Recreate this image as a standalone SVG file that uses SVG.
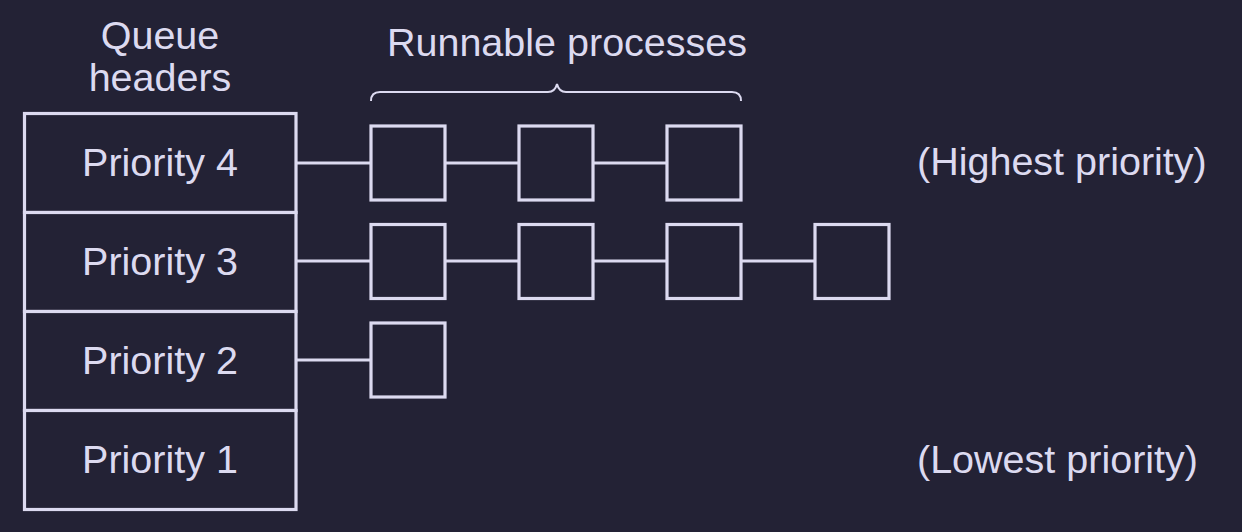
<svg xmlns="http://www.w3.org/2000/svg" width="1242" height="532" viewBox="0 0 1242 532">
<style>
.t{font-family:"Liberation Sans",Arial,sans-serif;font-size:39.5px;fill:#dcdaf0}
.m{text-anchor:middle}
.b{fill:#232235;stroke:#dcdaf0;stroke-width:3.2}
.c{stroke:#dcdaf0;stroke-width:3.2;fill:none}
</style>
<rect width="1242" height="532" fill="#232235"/>
<text class="t m" x="160" y="49">Queue</text>
<text class="t m" x="160" y="91">headers</text>
<text class="t m" x="567" y="56">Runnable processes</text>
<path d="M371 101 Q371 92 380 92 L548 92 Q555 92 557 84 Q559 92 566 92 L732 92 Q741 92 741 101" fill="none" stroke="#dcdaf0" stroke-width="2"/>
<g id="connectors">
<line class="c" x1="296" y1="163" x2="371" y2="163"/>
<line class="c" x1="445" y1="163" x2="519" y2="163"/>
<line class="c" x1="593" y1="163" x2="667" y2="163"/>
<line class="c" x1="296" y1="261" x2="371" y2="261"/>
<line class="c" x1="445" y1="261" x2="519" y2="261"/>
<line class="c" x1="593" y1="261" x2="667" y2="261"/>
<line class="c" x1="741" y1="261" x2="815" y2="261"/>
<line class="c" x1="296" y1="360" x2="371" y2="360"/>
</g>
<g id="h4"><rect class="b" x="24.5" y="113.5" width="271.5" height="99"/><text class="t m" x="160" y="176">Priority 4</text></g>
<g id="h3"><rect class="b" x="24.5" y="212.5" width="271.5" height="99"/><text class="t m" x="160" y="275">Priority 3</text></g>
<g id="h2"><rect class="b" x="24.5" y="311.5" width="271.5" height="99"/><text class="t m" x="160" y="374">Priority 2</text></g>
<g id="h1"><rect class="b" x="24.5" y="410.5" width="271.5" height="99"/><text class="t m" x="160" y="473">Priority 1</text></g>
<g id="p4a"><rect class="b" x="371" y="126" width="74" height="74"/></g>
<g id="p4b"><rect class="b" x="519" y="126" width="74" height="74"/></g>
<g id="p4c"><rect class="b" x="667" y="126" width="74" height="74"/></g>
<g id="p3a"><rect class="b" x="371" y="224.5" width="74" height="74"/></g>
<g id="p3b"><rect class="b" x="519" y="224.5" width="74" height="74"/></g>
<g id="p3c"><rect class="b" x="667" y="224.5" width="74" height="74"/></g>
<g id="p3d"><rect class="b" x="815" y="224.5" width="74" height="74"/></g>
<g id="p2a"><rect class="b" x="371" y="323" width="74" height="74"/></g>
<text class="t" x="917" y="175">(Highest priority)</text>
<text class="t" x="917" y="473">(Lowest priority)</text>
</svg>
